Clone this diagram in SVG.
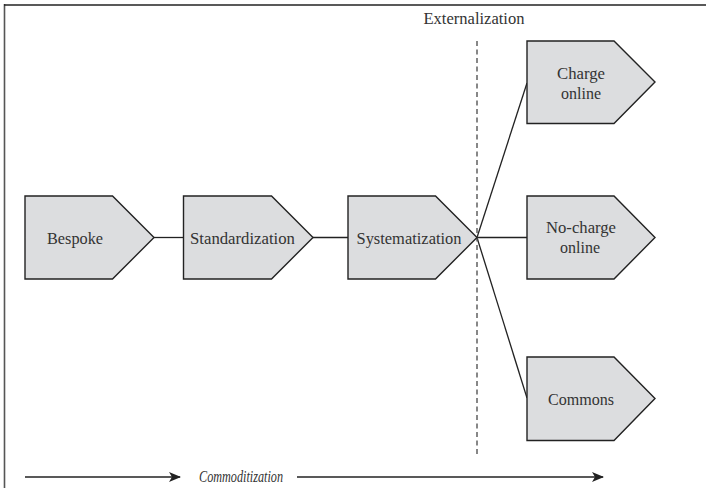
<svg xmlns="http://www.w3.org/2000/svg" width="706" height="488" viewBox="0 0 706 488">
<defs>
<style>
.node{fill:#dcdddf;stroke:#222;stroke-width:1.4;stroke-linejoin:miter}
.lbl{font-size:16.5px;fill:#333;text-anchor:middle}
.conn{stroke:#222;stroke-width:1.3;fill:none}
</style>
<marker id="arr" viewBox="0 0 12 10" refX="11" refY="5" markerWidth="12" markerHeight="10" markerUnits="userSpaceOnUse" orient="auto">
<path d="M0,0 L12,5 L0,10 L3,5 Z" fill="#222"/>
</marker>
</defs>
<rect x="0" y="0" width="706" height="488" fill="#fff"/>
<g id="frame">
<line x1="4.5" y1="4" x2="4.5" y2="488" stroke="#555" stroke-width="1.6"/>
<line x1="4" y1="5" x2="706" y2="5" stroke="#222" stroke-width="1.6"/>
</g>
<g id="connectors">
<line class="conn" x1="154" y1="237.5" x2="183.5" y2="237.5"/>
<line class="conn" x1="313" y1="237.5" x2="348" y2="237.5"/>
<line class="conn" x1="477" y1="237.5" x2="527" y2="237.5"/>
<line class="conn" x1="477" y1="237.5" x2="527" y2="83"/>
<line class="conn" x1="477" y1="237.5" x2="527" y2="398"/>
<line x1="477" y1="41" x2="477" y2="455" stroke="#555" stroke-width="1.4" stroke-dasharray="5,3.5"/>
<line class="conn" x1="25" y1="477" x2="180" y2="477" marker-end="url(#arr)"/>
<line class="conn" x1="297" y1="477" x2="603" y2="477" marker-end="url(#arr)"/>
</g>
<g font-family="'Liberation Serif', 'Times New Roman', serif">
<g id="bespoke">
<path class="node" d="M25,196 H112.5 L154,237.5 L112.5,279 H25 Z"/>
<text class="lbl" x="75" y="243.5" textLength="56" lengthAdjust="spacingAndGlyphs">Bespoke</text>
</g>
<g id="standardization">
<path class="node" d="M183.5,196 H271.5 L313,237.5 L271.5,279 H183.5 Z"/>
<text class="lbl" x="242.5" y="243.5" textLength="105" lengthAdjust="spacingAndGlyphs">Standardization</text>
</g>
<g id="systematization">
<path class="node" d="M348,196 H435.5 L477,237.5 L435.5,279 H348 Z"/>
<text class="lbl" x="409" y="243.5" textLength="105" lengthAdjust="spacingAndGlyphs">Systematization</text>
</g>
<g id="charge-online">
<path class="node" d="M527,41 H614 L655,82 L614,123.5 H527 Z"/>
<text class="lbl" x="581" y="79" textLength="48" lengthAdjust="spacingAndGlyphs">Charge</text>
<text class="lbl" x="581" y="99" textLength="40" lengthAdjust="spacingAndGlyphs">online</text>
</g>
<g id="no-charge-online">
<path class="node" d="M527,196 H614 L655,237.5 L614,279 H527 Z"/>
<text class="lbl" x="581" y="232.5" textLength="70" lengthAdjust="spacingAndGlyphs">No-charge</text>
<text class="lbl" x="580" y="253" textLength="40" lengthAdjust="spacingAndGlyphs">online</text>
</g>
<g id="commons">
<path class="node" d="M527,357 H614 L655,398.5 L614,440.5 H527 Z"/>
<text class="lbl" x="581" y="404.5" textLength="66" lengthAdjust="spacingAndGlyphs">Commons</text>
</g>
<g id="externalization">
<text class="lbl" x="474" y="24" textLength="101" lengthAdjust="spacingAndGlyphs">Externalization</text>
</g>
<g id="commoditization">
<text class="lbl" x="241" y="482" font-style="italic" textLength="84" lengthAdjust="spacingAndGlyphs">Commoditization</text>
</g>
</g>
</svg>
